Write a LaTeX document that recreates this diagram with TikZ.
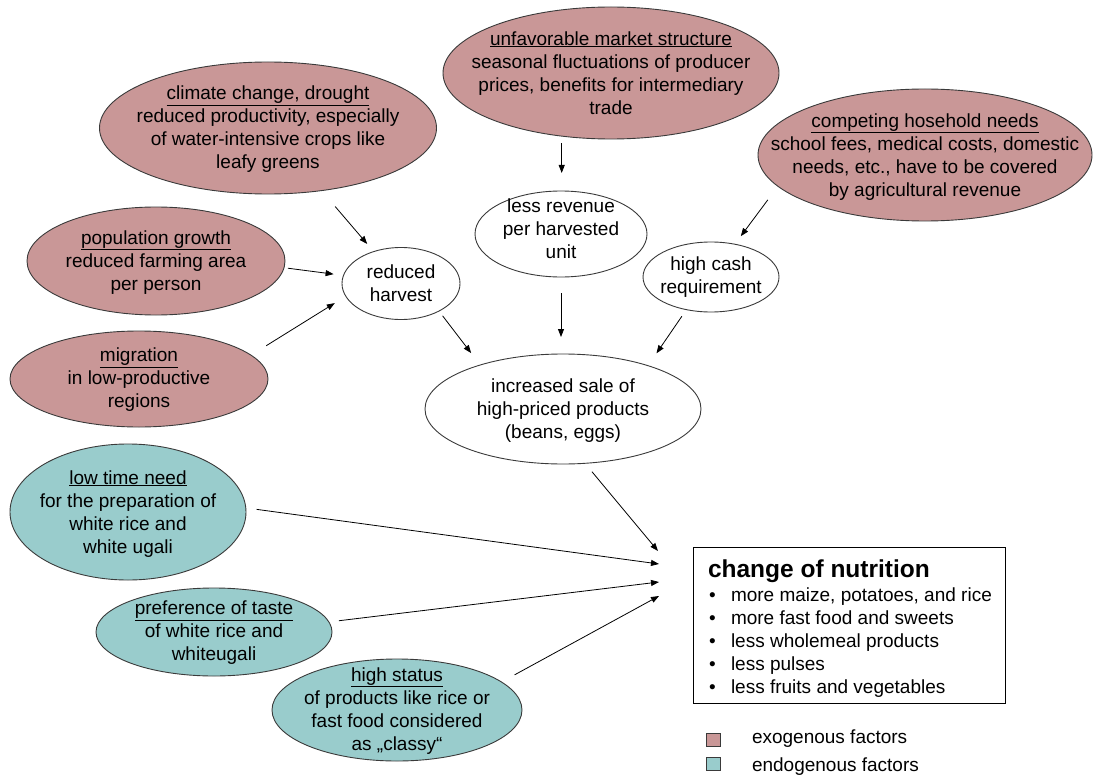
\documentclass[tikz,border=0pt]{standalone}
\usepackage{fontspec}
\setmainfont{Liberation Sans}
\usetikzlibrary{shapes.geometric,arrows.meta}
\definecolor{exocol}{HTML}{C99797}
\definecolor{endocol}{HTML}{99CCCC}
\definecolor{edgecol}{HTML}{3A3A3A}
\begin{document}
\begin{tikzpicture}[x=1pt,y=-1pt,
  every node/.style={inner sep=0pt, outer sep=0pt},
  txt/.style={align=center, font=\fontsize{19}{23}\selectfont},
  lbl/.style={anchor=base west, font=\fontsize{19}{23}\selectfont},
  bub/.style={ellipse, draw=edgecol, line width=0.9pt},
  exobub/.style={bub, fill=exocol},
  endobub/.style={bub, fill=endocol},
  plainbub/.style={bub, fill=white},
  arr/.style={-{Triangle[length=8pt,width=6pt]}, line width=0.8pt, draw=black}
]
\useasboundingbox (0,0) rectangle (1094,778);

% exogenous factors
\node[exobub, minimum width=337, minimum height=132] (climate) at (268,128) {};
\node[txt] at (268,129.5) {\strut\underline{climate change, drought}\\reduced productivity, especially\\of water-intensive crops like\\leafy greens\strut};

\node[exobub, minimum width=258, minimum height=108] (population) at (156,261) {};
\node[txt] at (156,262.5) {\strut\underline{population growth}\\reduced farming area\\per person\strut};

\node[exobub, minimum width=258, minimum height=96] (migration) at (139,379) {};
\node[txt] at (139,380) {\strut\underline{migration}\\in low-productive\\regions\strut};

\node[exobub, minimum width=336, minimum height=132] (market) at (611,73) {};
\node[txt] at (611,75) {\strut\underline{unfavorable market structure}\\seasonal fluctuations of producer\\prices, benefits for intermediary\\trade\strut};

\node[exobub, minimum width=334, minimum height=132] (competing) at (925,155) {};
\node[txt] at (925,157) {\strut\underline{competing hosehold needs}\\school fees, medical costs, domestic\\needs, etc., have to be covered\\by agricultural revenue\strut};

% intermediate
\node[plainbub, minimum width=118, minimum height=72] (harvest) at (401,283.5) {};
\node[txt] at (401,285) {\strut reduced\\harvest\strut};

\node[plainbub, minimum width=172, minimum height=86] (lessrev) at (561,234) {};
\node[txt] at (561,231) {\strut less revenue\\per harvested\\unit\strut};

\node[plainbub, minimum width=136, minimum height=70] (highcash) at (711,277) {};
\node[txt] at (711,277.5) {\strut high cash\\requirement\strut};

\node[plainbub, minimum width=276, minimum height=110] (increased) at (563,409) {};
\node[txt] at (563,411) {\strut increased sale of\\high-priced products\\(beans, eggs)\strut};

% endogenous factors
\node[endobub, minimum width=236, minimum height=136] (lowtime) at (128,512) {};
\node[txt] at (128,514) {\strut\underline{low time need}\\for the preparation of\\white rice and\\white ugali\strut};

\node[endobub, minimum width=236, minimum height=88] (preference) at (214,632) {};
\node[txt] at (214,633) {\strut\underline{preference of taste}\\of white rice and\\whiteugali\strut};

\node[endobub, minimum width=250, minimum height=102] (highstatus) at (397,710) {};
\node[txt] at (397,711) {\strut\underline{high status}\\of products like rice or\\fast food considered\\as „classy“\strut};

% result box
\node[draw=black, line width=0.9pt, minimum width=312, minimum height=156, anchor=north west] (box) at (693,547) {};
\node[anchor=base west, font=\fontsize{24.5}{28}\selectfont\bfseries] (title) at (708,577) {change of nutrition};
\node[lbl] (b1) at (709,601) {\textbullet};
\node[lbl] (i1) at (731,601) {more maize, potatoes, and rice};
\node[lbl] (b2) at (709,624) {\textbullet};
\node[lbl] (i2) at (731,624) {more fast food and sweets};
\node[lbl] (b3) at (709,647) {\textbullet};
\node[lbl] (i3) at (731,647) {less wholemeal products};
\node[lbl] (b4) at (709,670) {\textbullet};
\node[lbl] (i4) at (731,670) {less pulses};
\node[lbl] (b5) at (709,693) {\textbullet};
\node[lbl] (i5) at (731,693) {less fruits and vegetables};

% legend
\node[draw=edgecol, fill=exocol, line width=0.7pt, minimum width=14, minimum height=13] (lgexo) at (713.5,739.5) {};
\node[lbl] (lgexot) at (752,743) {exogenous factors};
\node[draw=edgecol, fill=endocol, line width=0.7pt, minimum width=14, minimum height=13] (lgendo) at (713.5,763.5) {};
\node[lbl] (lgendot) at (752,771) {endogenous factors};

% arrow targets at the box
\coordinate (t0) at (658,551);
\coordinate (t1) at (659,564);
\coordinate (t2) at (659,582);
\coordinate (t3) at (659,596);

% connectors
\draw[arr, shorten <=21pt, shorten >=10pt] (climate) -- (harvest);
\draw[arr, shorten <=4pt, shorten >=10pt] (population.-3) -- (harvest.172);
\draw[arr, shorten <=18pt, shorten >=13pt] (migration.12) -- (harvest.193);
\draw[arr, shorten <=7pt, shorten >=18pt] (market.232) -- (market.232 |- lessrev.north);
\draw[arr, shorten <=17pt, shorten >=10pt] (competing.192) -- (highcash.54);
\draw[arr, shorten <=6pt, shorten >=15pt] (harvest.324) -- (increased.152);
\draw[arr, shorten <=16pt, shorten >=17pt] (lessrev.south) -- (lessrev.south |- increased.north);
\draw[arr, shorten <=8pt, shorten >=15pt] (highcash.233) -- (increased.27);
\draw[arr, shorten <=11pt] (increased.292) -- (t0);
\draw[arr, shorten <=11pt] (lowtime.2) -- (t1);
\draw[arr, shorten <=10pt] (preference.5) -- (t2);
\draw[arr, shorten <=15pt] (highstatus.15) -- (t3);
\end{tikzpicture}
\end{document}
